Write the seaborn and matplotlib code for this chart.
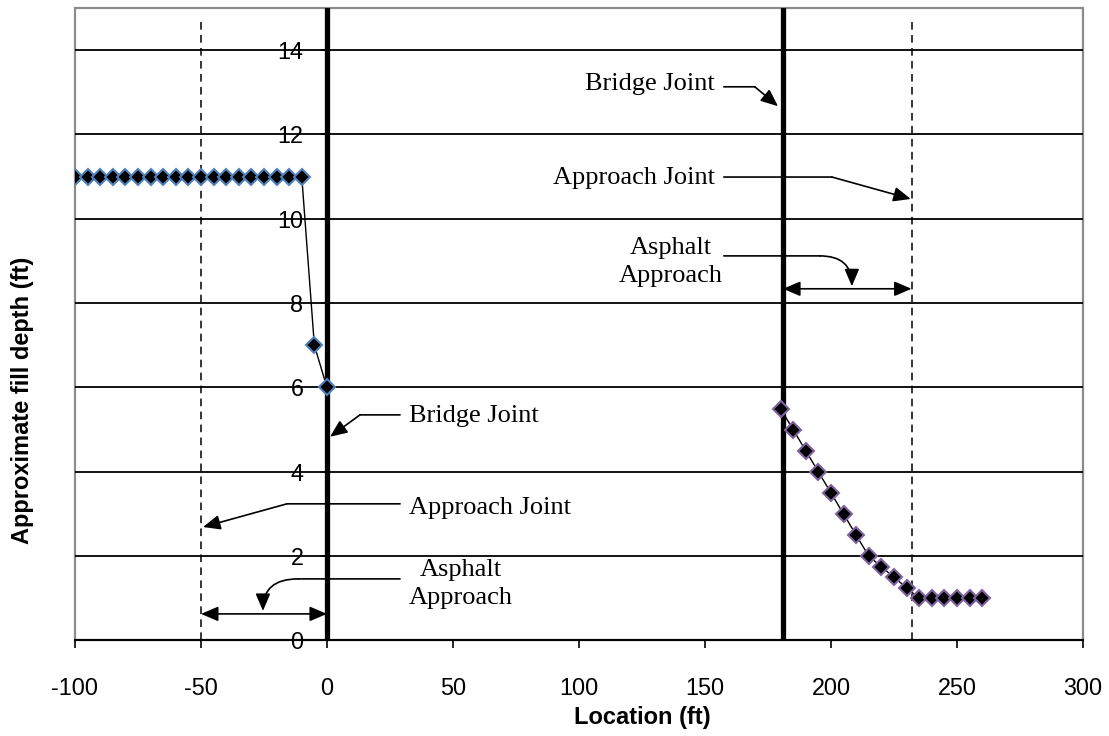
import matplotlib
matplotlib.use("Agg")
import matplotlib.pyplot as plt
import matplotlib.patches as patches
import seaborn as sns
import pandas as pd

# ---------------- data ----------------
west_x = [-100, -95, -90, -85, -80, -75, -70, -65, -60, -55, -50, -45, -40,
          -35, -30, -25, -20, -15, -10, -5, 0]
west_y = [11, 11, 11, 11, 11, 11, 11, 11, 11, 11, 11, 11, 11,
          11, 11, 11, 11, 11, 11, 7, 6]

east_x = [180, 185, 190, 195, 200, 205, 210, 215, 220, 225, 230, 235, 240,
          245, 250, 255, 260]
east_y = [5.5, 5.0, 4.5, 4.0, 3.5, 3.0, 2.5, 2.0, 1.75, 1.5, 1.25, 1.0, 1.0,
          1.0, 1.0, 1.0, 1.0]

bridge_joints = [0, 181]
approach_joints = [-50, 232]

x_ticks = [-100, -50, 0, 50, 100, 150, 200, 250, 300]
y_ticks = [0, 2, 4, 6, 8, 10, 12, 14]

x_label = "Location (ft)"
y_label = "Approximate fill depth (ft)"

# annotation layout: (text, text_xy, ha, start, knee, tip, curved)
annotations = [
    ("Bridge Joint", (154, 13.2), "right", (157.5, 13.13), (169.8, 13.13), (179.0, 12.67), False),
    ("Approach Joint", (154, 10.96), "right", (157.5, 10.99), (200.4, 10.99), (231.7, 10.47), False),
    ("Asphalt\nApproach", (136.3, 8.98), "center", (157.5, 9.12), (195.6, 9.12), (208.3, 8.40), True),
    ("Bridge Joint", (32.5, 5.32), "left", (29.0, 5.35), (13.1, 5.35), (1.2, 4.83), False),
    ("Approach Joint", (32.5, 3.14), "left", (29.0, 3.24), (-15.9, 3.24), (-49.2, 2.69), False),
    ("Asphalt\nApproach", (53.2, 1.35), "center", (29.0, 1.46), (-11.5, 1.46), (-25.4, 0.70), True),
]
span_arrows = [((-50, 0), 0.63), ((181, 232), 8.34)]

# ---------------- style ----------------
sns.set_style("white")
plt.rcParams["font.family"] = ["Liberation Sans", "DejaVu Sans"]
plt.rcParams["axes.unicode_minus"] = False
plt.rcParams["text.color"] = "black"
plt.rcParams["axes.labelcolor"] = "black"
plt.rcParams["xtick.color"] = "black"
plt.rcParams["ytick.color"] = "black"

fig = plt.figure(figsize=(11.09, 7.36), dpi=100)
ax = fig.add_axes([0.0676, 0.1298, 0.9089, 0.8594])

ax.set_xlim(-100, 300)
ax.set_ylim(0, 15)

# gridlines
ax.set_yticks(y_ticks)
ax.set_xticks(x_ticks)
ax.yaxis.grid(True, color="black", lw=1.3)
ax.xaxis.grid(False)
ax.set_axisbelow(True)

# frame
for s in ["top", "right"]:
    ax.spines[s].set_visible(False)
ax.spines["left"].set_position(("data", 0))
ax.spines["left"].set_color("black")
ax.spines["bottom"].set_color("black")
ax.spines["bottom"].set_linewidth(1.5)
ax.spines["bottom"].set_zorder(3)
frame = patches.Rectangle((0, 0), 1, 1, transform=ax.transAxes, fill=False,
                          edgecolor="#8c8c8c", lw=1.6, clip_on=False, zorder=0.5)
ax.add_patch(frame)

ax.tick_params(axis="y", direction="out", length=4, width=1.2, color="black",
               labelcolor="black", pad=13, labelsize=16.8, left=True)
ax.tick_params(axis="x", direction="out", length=6, width=1.2, color="black",
               labelcolor="black", pad=20, labelsize=16.8, bottom=True)
ax.set_xticklabels([str(v) for v in x_ticks])
ax.set_yticklabels([str(v) for v in y_ticks])

# vertical joint lines
for bx in bridge_joints:
    ax.axvline(bx, color="black", lw=3.8, zorder=2)
for axj in approach_joints:
    ax.axvline(axj, ymin=0, ymax=0.985, color="black", lw=1.1,
               linestyle=(0, (5, 3.5)), zorder=2)

# data series
df_w = pd.DataFrame({"x": west_x, "y": west_y})
df_e = pd.DataFrame({"x": east_x, "y": east_y})
sns.lineplot(data=df_w, x="x", y="y", ax=ax, color="black", lw=1.0,
             marker="D", markersize=8.2, markerfacecolor="black",
             markeredgecolor="#4F81BD", markeredgewidth=1.5, zorder=3)
sns.lineplot(data=df_e, x="x", y="y", ax=ax, color="black", lw=1.0,
             marker="D", markersize=8.2, markerfacecolor="black",
             markeredgecolor="#8064A2", markeredgewidth=1.5, zorder=3)

# annotations
serif = ["Liberation Serif", "DejaVu Serif"]
head = "-|>,head_length=0.75,head_width=0.32"
for text, txy, ha, start, knee, tip, curved in annotations:
    ax.text(txy[0], txy[1], text, ha=ha, va="center", fontsize=19,
            family=serif, color="black", multialignment="center",
            linespacing=1.35, zorder=5)
    ax.annotate("", xy=knee, xytext=start,
                arrowprops=dict(arrowstyle="-", color="black", lw=1.2,
                                shrinkA=0, shrinkB=0), zorder=5)
    cs = "angle3,angleA=0,angleB=90" if curved else "arc3"
    ax.annotate("", xy=tip, xytext=knee,
                arrowprops=dict(arrowstyle=head, color="black", lw=1.2,
                                shrinkA=0, shrinkB=0, mutation_scale=14,
                                connectionstyle=cs), zorder=5)
for (x0, x1), yy in span_arrows:
    ax.annotate("", xy=(x1, yy), xytext=(x0, yy),
                arrowprops=dict(arrowstyle="<|-|>,head_length=0.75,head_width=0.32",
                                color="black", lw=1.2, shrinkA=0, shrinkB=0,
                                mutation_scale=14), zorder=5)

# labels
ax.set_xlabel(x_label, fontsize=17, fontweight="bold", color="black")
ax.set_ylabel(y_label, fontsize=17, fontweight="bold", color="black")
ax.xaxis.set_label_coords(0.563, -0.104)
ax.yaxis.set_label_coords(-0.041, 0.379)

fig.savefig("out.png", dpi=100)
